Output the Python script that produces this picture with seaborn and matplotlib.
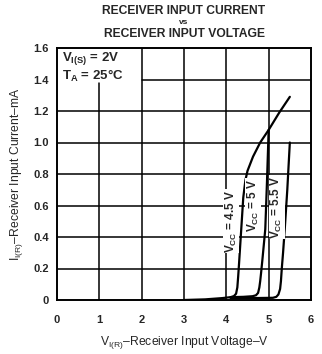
import matplotlib
matplotlib.use("Agg")
import matplotlib.pyplot as plt
import seaborn as sns
import pandas as pd

# Receiver input characteristic curves (V in volts, I in mA)
v_45 = [3.0, 3.5, 3.9, 4.1, 4.18, 4.23, 4.26, 4.28, 4.30, 4.35, 4.40, 4.45, 4.50, 4.63, 4.80, 5.00, 5.25, 5.50]
i_45 = [0.0, 0.004, 0.012, 0.018, 0.025, 0.04, 0.08, 0.15, 0.23, 0.44, 0.65, 0.76, 0.82, 0.91, 1.00, 1.08, 1.19, 1.29]

v_50 = [4.1, 4.4, 4.62, 4.70, 4.75, 4.78, 4.80, 4.82, 4.85, 4.92, 4.96, 5.0]
i_50 = [0.018, 0.02, 0.024, 0.03, 0.045, 0.08, 0.12, 0.17, 0.25, 0.45, 0.75, 1.08]

v_55 = [4.1, 4.6, 5.10, 5.18, 5.23, 5.27, 5.29, 5.31, 5.34, 5.38, 5.44, 5.50]
i_55 = [0.012, 0.012, 0.014, 0.02, 0.035, 0.07, 0.12, 0.2, 0.3, 0.45, 0.7, 1.0]

curve_names = ["4.5 V", "5 V", "5.5 V"]
label_texts = ["V$_{\\mathregular{CC}}$ = 4.5 V", "V$_{\\mathregular{CC}}$ = 5 V", "V$_{\\mathregular{CC}}$ = 5.5 V"]

x_ticks = [0, 1, 2, 3, 4, 5, 6]
y_ticks = [0, 0.2, 0.4, 0.6, 0.8, 1.0, 1.2, 1.4, 1.6]
y_tick_labels = ["0", "0.2", "0.4", "0.6", "0.8", "1.0", "1.2", "1.4", "1.6"]

df = pd.concat([
    pd.DataFrame({"V": v_45, "I": i_45, "Vcc": curve_names[0]}),
    pd.DataFrame({"V": v_50, "I": i_50, "Vcc": curve_names[1]}),
    pd.DataFrame({"V": v_55, "I": i_55, "Vcc": curve_names[2]}),
])

sns.set_style("white")
plt.rcParams["font.family"] = ["Liberation Sans", "DejaVu Sans"]
plt.rcParams["mathtext.fontset"] = "custom"
plt.rcParams["mathtext.rm"] = "Liberation Sans:bold"
plt.rcParams["mathtext.it"] = "Liberation Sans:bold"
plt.rcParams["mathtext.bf"] = "Liberation Sans:bold"

fig = plt.figure(figsize=(3.22, 3.54), dpi=100)
ax = fig.add_axes([57 / 322, 54 / 354, 254 / 322, 252 / 354])

# Grid, with the upper-left cell left open for the conditions note
for yv in [0.2, 0.4, 0.6, 0.8, 1.0, 1.2]:
    ax.plot([0, 6], [yv, yv], color="black", lw=1.1, zorder=1)
ax.plot([2, 6], [1.4, 1.4], color="black", lw=1.1, zorder=1)
ax.plot([1, 1], [0, 1.375], color="black", lw=1.1, zorder=1)
for xv in [2, 3, 4, 5]:
    ax.plot([xv, xv], [0, 1.6], color="black", lw=1.1, zorder=1)

sns.lineplot(data=df, x="V", y="I", hue="Vcc", palette=["black"] * 3,
             estimator=None, sort=False, lw=1.6, legend=False, ax=ax, zorder=3)

ax.set_xlim(0, 6)
ax.set_ylim(0, 1.6)
ax.set_xticks(x_ticks)
ax.set_yticks(y_ticks)
ax.set_yticklabels(y_tick_labels)
ax.tick_params(length=0, labelsize=8, pad=6)
for lab in ax.get_xticklabels() + ax.get_yticklabels():
    lab.set_fontweight("bold")
ax.tick_params(axis="x", pad=11)
for s in ax.spines.values():
    s.set_color("black")
    s.set_linewidth(1.4)

ax.set_xlabel("V$_{\\mathregular{I(R)}}$\u2013Receiver Input Voltage\u2013V", fontsize=8.7, labelpad=6)
ax.set_ylabel("I$_{\\mathregular{I(R)}}$\u2013Receiver Input Current\u2013mA", fontsize=8.7, labelpad=6)

# Curve labels
for (xv, yv), txt in zip([(4.11, 0.50), (4.64, 0.60), (5.19, 0.59)], label_texts):
    ax.text(xv, yv, txt, rotation=90, ha="center", va="center",
            fontsize=8.5, fontweight="bold", zorder=4,
            bbox=dict(facecolor="white", edgecolor="none", pad=0.3))

# Test conditions
ax.text(0.12, 1.535, "V$_{\\mathregular{I(S)}}$ = 2V", ha="left", va="center", fontsize=9.5, fontweight="bold")
ax.text(0.12, 1.42, "T$_{\\mathregular{A}}$ = 25\u00b0C", ha="left", va="center", fontsize=9.5, fontweight="bold")

fig.text(184 / 322, 1 - 11 / 354, "RECEIVER INPUT CURRENT", ha="center", va="center", fontsize=8.7, fontweight="bold")
fig.text(184 / 322, 1 - 22 / 354, "vs", ha="center", va="center", fontsize=6, fontweight="bold")
fig.text(184 / 322, 1 - 34 / 354, "RECEIVER INPUT VOLTAGE", ha="center", va="center", fontsize=8.7, fontweight="bold")

fig.savefig("out.png", dpi=100)
